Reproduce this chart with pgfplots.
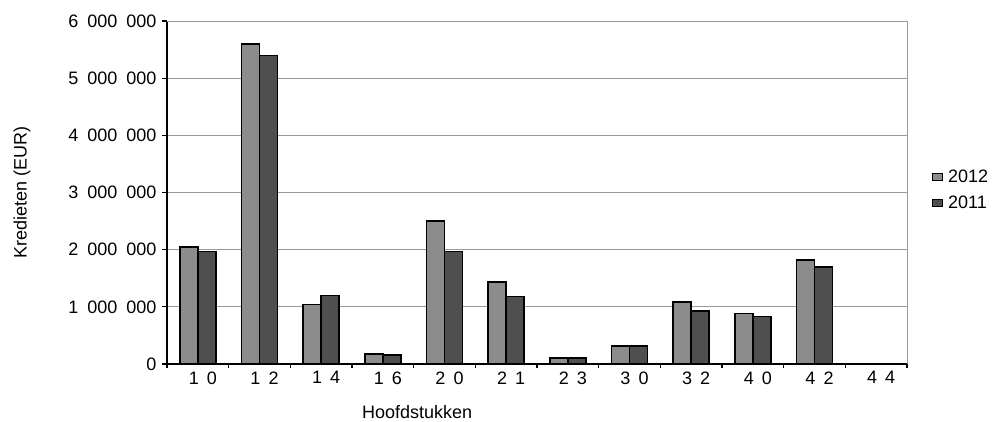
\documentclass[border=0pt]{standalone}
\usepackage{fontspec}
\setmainfont{Liberation Sans}
\usepackage{pgfplots}
\pgfplotsset{compat=1.18}

\definecolor{bara}{HTML}{8C8C8C}
\definecolor{barb}{HTML}{4F4F4F}
\definecolor{gridc}{HTML}{9A9A9A}

\newcommand{\bigf}{\fontsize{18bp}{21bp}\selectfont}
\newcommand{\gs}{\hspace{0.5em}}
\newcommand{\yl}[1]{\mbox{\bigf#1\gs000\gs000}}
\newcommand{\xl}[2]{\mbox{\bigf#1\hspace{0.45em}#2}}

\begin{document}
\begin{tikzpicture}
\begin{axis}[
    name=ax,
    scale only axis,
    width=740bp, height=343bp,
    ybar=0pt,
    bar width=18bp,
    xmin=-0.5, xmax=11.5,
    ymin=0, ymax=6000000,
    scaled y ticks=false,
    axis x line*=bottom,
    axis y line*=left,
    axis line style={black, line width=1.3pt},
    xtick={0,...,11},
    xticklabels={\xl10,\xl12,\xl14,\xl16,\xl20,\xl21,\xl23,\xl30,\xl32,\xl40,\xl42,\xl44},
    major x tick style={draw=none},
    minor xtick={-0.5,0.5,...,11.5},
    minor x tick style={black, line width=1.3pt},
    minor tick length=4bp,
    ytick={0,1000000,...,6000000},
    yticklabels={\mbox{\bigf 0},\yl1,\yl2,\yl3,\yl4,\yl5,\yl6},
    major y tick style={black, line width=1.3pt},
    major tick length=5bp,
    tick align=outside,
    ymajorgrids,
    grid style={gridc, line width=0.8pt},
    xticklabel style={font=\bigf, xshift=5bp, yshift=1bp},
    yticklabel style={font=\bigf, xshift=-2bp},
    xlabel={Hoofdstukken},
    ylabel={Kredieten (EUR)},
    label style={font=\bigf},
    xlabel style={at={(axis description cs:0.338,0)}, anchor=center, yshift=-48bp},
    ylabel style={at={(axis description cs:-0.196,0.5)}, anchor=center},
    legend style={draw=none, fill=none, at={(axis description cs:1,0.507)}, anchor=west, xshift=22bp,
        font=\bigf, row sep=8bp,
        /tikz/every odd column/.append style={column sep=3bp}},
    legend image code/.code={\draw[#1, line width=0.9pt] (0bp,-3bp) rectangle (10bp,3.5bp);},
    legend cell align=left,
    clip=false,
]
\addplot[fill=bara, draw=black, line width=1.6pt] coordinates {
(0,2050000) (1,5600000) (2,1040000) (3,175000) (4,2500000) (5,1430000)
(6,100000) (7,320000) (8,1080000) (9,880000) (10,1820000) (11,10000)};
\addplot[fill=barb, draw=black, line width=1.6pt] coordinates {
(0,1965000) (1,5400000) (2,1195000) (3,157000) (4,1965000) (5,1180000)
(6,100000) (7,320000) (8,930000) (9,830000) (10,1700000) (11,10000)};
\legend{2012,2011}
\draw[gridc, line width=1pt] (rel axis cs:0,1) -- (rel axis cs:1,1) -- (rel axis cs:1,0);
\end{axis}
\useasboundingbox ([xshift=-167bp,yshift=-54bp]ax.south west) rectangle ([xshift=89bp,yshift=21bp]ax.north east);
\end{tikzpicture}
\end{document}
